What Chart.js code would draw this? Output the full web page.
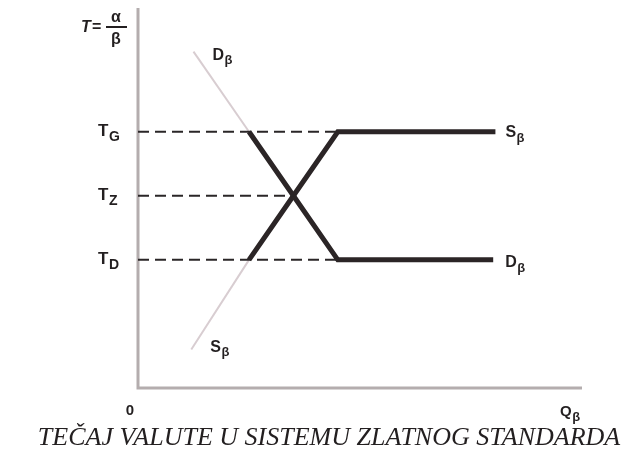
<!DOCTYPE html>
<html>
<head>
<meta charset="utf-8">
<script src="https://cdn.jsdelivr.net/npm/chart.js@4"></script>
<style>
  body { margin: 0; background: #fff; }
  #wrap { width: 632px; height: 454px; position: relative; }
</style>
</head>
<body>
<div id="wrap"><canvas id="chart"></canvas></div>
<script>
// ---- data ----
const qMax = 10;
const tMax = 5.9;

const levelValues = [2, 3, 4];            // T_D, T_Z, T_G
const levelMain = ["T", "T", "T"];
const levelSub = ["D", "Z", "G"];
const guideEnds = [4.5, 3.5, 4.5];        // where the dashed lines stop

const demandQ = [2.5, 3.5, 4.5, 8.0];
const demandT = [4, 3, 2, 2];
const supplyQ = [2.5, 3.5, 4.5, 8.05];
const supplyT = [2, 3, 4, 4];

const demandFaintQ = [1.25, 2.5];
const demandFaintT = [5.25, 4];
const supplyFaintQ = [1.2, 2.5];
const supplyFaintT = [0.6, 2];

const title = "TEČAJ VALUTE U SISTEMU ZLATNOG STANDARDA";

function pts(xs, ys) {
  return xs.map((x, i) => ({ x: x, y: ys[i] }));
}

const datasets = [];

levelValues.forEach((v, i) => {
  datasets.push({
    data: pts([0, guideEnds[i]], [v, v]),
    borderColor: "#2a2627",
    borderWidth: 2,
    borderDash: [11, 6],
  });
});

datasets.push({
  data: pts(demandFaintQ, demandFaintT),
  borderColor: "#d8cdd1",
  borderWidth: 2,
});
datasets.push({
  data: pts(supplyFaintQ, supplyFaintT),
  borderColor: "#d8cdd1",
  borderWidth: 2,
});
datasets.push({
  data: pts(demandQ, demandT),
  borderColor: "#2b2526",
  borderWidth: 5,
});
datasets.push({
  data: pts(supplyQ, supplyT),
  borderColor: "#2b2526",
  borderWidth: 5,
});

datasets.forEach(d => {
  d.showLine = true;
  d.pointRadius = 0;
  d.pointHoverRadius = 0;
  d.borderJoinStyle = "miter";
  d.borderCapStyle = "butt";
  d.tension = 0;
});

// text with a subscript
function subText(ctx, main, sub, x, y, size, subSize) {
  ctx.textAlign = "left";
  ctx.textBaseline = "alphabetic";
  ctx.font = "bold " + size + "px 'Liberation Sans', Arial, sans-serif";
  ctx.fillText(main, x, y);
  const w = ctx.measureText(main).width;
  ctx.font = "bold " + (subSize || Math.round(size * 0.8)) + "px 'Liberation Sans', Arial, sans-serif";
  ctx.fillText(sub, x + w + 0.5, y + size * 0.3);
}

const figurePlugin = {
  id: "figure",
  beforeDatasetsDraw(chart) {
    const ctx = chart.ctx;
    const xs = chart.scales.x, ys = chart.scales.y;
    const x0 = xs.getPixelForValue(0), y0 = ys.getPixelForValue(0);
    ctx.save();
    ctx.strokeStyle = "#b4adae";
    ctx.lineWidth = 3;
    ctx.beginPath();
    ctx.moveTo(x0, ys.getPixelForValue(tMax) - 2);
    ctx.lineTo(x0, y0);
    ctx.lineTo(xs.getPixelForValue(qMax), y0);
    ctx.stroke();
    ctx.restore();
  },
  afterDatasetsDraw(chart) {
    const ctx = chart.ctx;
    const xs = chart.scales.x, ys = chart.scales.y;
    const x0 = xs.getPixelForValue(0), y0 = ys.getPixelForValue(0);
    ctx.save();
    ctx.fillStyle = "#231f20";

    // level labels on the T axis
    levelValues.forEach((v, i) => {
      subText(ctx, levelMain[i], levelSub[i], x0 - 40, ys.getPixelForValue(v) + 4, 17, 14);
    });

    // curve labels
    subText(ctx, "D", "β", xs.getPixelForValue(demandFaintQ[0]) + 19, ys.getPixelForValue(demandFaintT[0]) + 8, 16, 13);
    subText(ctx, "S", "β", xs.getPixelForValue(supplyFaintQ[0]) + 19, ys.getPixelForValue(supplyFaintT[0]) + 2, 16, 13);
    subText(ctx, "S", "β", xs.getPixelForValue(supplyQ[3]) + 10, ys.getPixelForValue(supplyT[3]) + 5, 16, 13);
    subText(ctx, "D", "β", xs.getPixelForValue(demandQ[3]) + 12, ys.getPixelForValue(demandT[3]) + 7, 16, 13);

    // axis names
    ctx.font = "bold 15px 'Liberation Sans', Arial, sans-serif";
    ctx.textAlign = "center";
    ctx.fillText("0", x0 - 8, y0 + 27);
    subText(ctx, "Q", "β", xs.getPixelForValue(qMax) - 22, y0 + 28, 15, 13);

    // T = α / β
    const top = ys.getPixelForValue(tMax);
    ctx.font = "italic bold 16px 'Liberation Sans', Arial, sans-serif";
    ctx.textAlign = "left";
    ctx.fillText("T", x0 - 57, top + 22);
    ctx.font = "bold 16px 'Liberation Sans', Arial, sans-serif";
    ctx.fillText("=", x0 - 46, top + 22);
    ctx.textAlign = "center";
    ctx.fillText("α", x0 - 22, top + 12);
    ctx.fillText("β", x0 - 22, top + 34);
    ctx.fillRect(x0 - 32, top + 16, 21, 2);

    // title
    ctx.font = "italic 26px 'Liberation Serif', 'Times New Roman', serif";
    ctx.textAlign = "center";
    ctx.fillText(title, 329, y0 + 57);
    ctx.restore();
  }
};

new Chart(document.getElementById("chart"), {
  type: "scatter",
  data: { datasets: datasets },
  options: {
    responsive: true,
    maintainAspectRatio: false,
    animation: false,
    layout: { padding: { left: 138, right: 50, top: 10, bottom: 66 } },
    plugins: { legend: { display: false }, tooltip: { enabled: false } },
    scales: {
      x: { type: "linear", min: 0, max: qMax, display: false },
      y: { type: "linear", min: 0, max: tMax, display: false }
    }
  },
  plugins: [figurePlugin]
});
</script>
</body>
</html>
